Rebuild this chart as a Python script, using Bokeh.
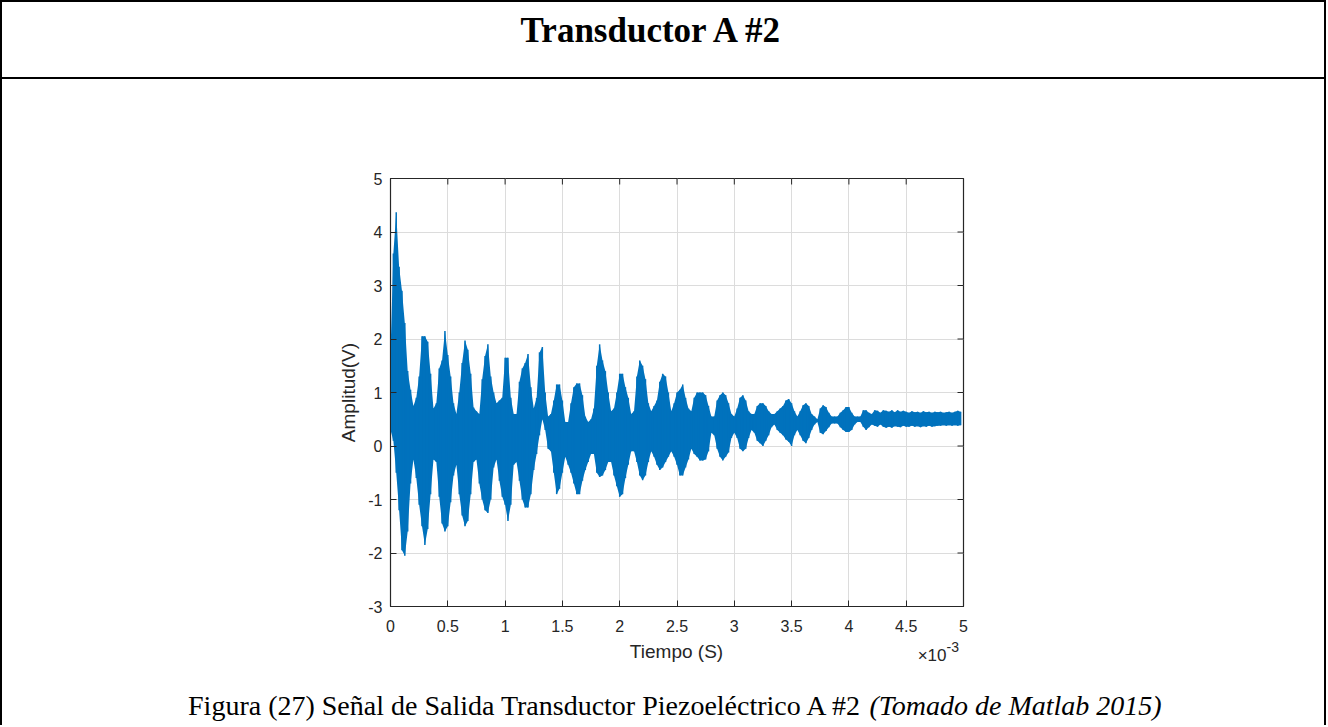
import numpy as np
from bokeh.plotting import figure
from bokeh.models import Range1d, FixedTicker, Label, ColumnDataSource
from bokeh.layouts import column
from bokeh.embed import file_html
from bokeh.resources import INLINE

# ---------------- data ----------------
title_text = "Transductor A #2"
caption_main = "Figura (27) Señal de Salida Transductor Piezoeléctrico A #2"
caption_ital = "(Tomado de Matlab 2015)"
x_label = "Tiempo (S)"
y_label = "Amplitud(V)"
x_mult_base = "×10"
x_mult_exp = "-3"

x_ticks = [0, 0.5, 1, 1.5, 2, 2.5, 3, 3.5, 4, 4.5, 5]
x_tick_labels = ["0", "0.5", "1", "1.5", "2", "2.5", "3", "3.5", "4", "4.5", "5"]
y_ticks = [-3, -2, -1, 0, 1, 2, 3, 4, 5]
y_tick_labels = ["-3", "-2", "-1", "0", "1", "2", "3", "4", "5"]

# envelope of the recorded signal (V), sampled every 0.025 x10^-3 s
sample_step = 0.025
sig_hi = [
    1.75, 3.6, 4.37, 3.35, 2.9, 2.3, 1.4, 1.05, 0.75, 0.9,
    1.3, 2.05, 2.05, 1.95, 1.35, 0.7, 0.8, 1.45, 1.6, 2.15,
    1.7, 1.3, 0.8, 0.6, 1.0, 1.55, 1.97, 1.8, 1.35, 0.72,
    0.65, 0.6, 1.25, 1.68, 1.9, 1.3, 1.0, 0.8, 0.85, 0.9,
    1.65, 1.65, 0.9, 0.6, 0.6, 1.2, 1.45, 1.55, 1.72, 1.1,
    0.7, 0.9, 1.75, 1.85, 1.0, 0.55, 0.6, 0.85, 1.15, 1.15,
    0.85, 0.45, 0.45, 0.8, 1.1, 1.17, 1.17, 0.95, 0.55, 0.45,
    0.5, 0.7, 1.5, 1.9, 1.6, 1.4, 1.0, 0.65, 0.7, 1.0,
    1.35, 1.35, 1.1, 0.9, 0.6, 0.65, 1.3, 1.6, 1.5, 1.25,
    0.8, 0.65, 0.75, 0.85, 1.2, 1.35, 1.3, 1.0, 0.65, 0.8,
    1.0, 1.05, 1.15, 0.9, 0.7, 0.65, 0.9, 1.0, 1.0, 1.0,
    0.95, 0.75, 0.55, 0.55, 0.85, 0.95, 1.0, 0.95, 0.8, 0.6,
    0.55, 0.7, 0.9, 0.95, 0.85, 0.65, 0.6, 0.6, 0.75, 0.8,
    0.8, 0.75, 0.65, 0.6, 0.6, 0.65, 0.7, 0.75, 0.85, 0.88,
    0.8, 0.65, 0.55, 0.65, 0.76, 0.8, 0.75, 0.6, 0.55, 0.5,
    0.7, 0.76, 0.73, 0.62, 0.55, 0.55, 0.55, 0.62, 0.67, 0.73,
    0.73, 0.62, 0.55, 0.55, 0.55, 0.67, 0.67, 0.62, 0.6, 0.67,
    0.66, 0.62, 0.67, 0.66, 0.64, 0.67, 0.63, 0.67, 0.64, 0.66,
    0.64, 0.62, 0.65, 0.63, 0.64, 0.62, 0.65, 0.63, 0.64, 0.62,
    0.64, 0.63, 0.64, 0.62, 0.63, 0.64, 0.62, 0.64, 0.66, 0.64,
]
sig_lo = [
    0.3, 0.1, -0.5, -1.2, -1.95, -2.05, -1.6, -0.7, -0.25, -0.6,
    -1.1, -1.5, -1.85, -1.55, -0.9, -0.25, -0.3, -0.95, -1.45, -1.6,
    -1.5, -1.05, -0.55, -0.35, -0.9, -1.3, -1.5, -1.4, -0.9, -0.3,
    -0.25, -0.7, -1.0, -1.2, -1.25, -1.0, -0.4, -0.25, -0.65, -0.95,
    -1.1, -1.4, -1.1, -0.35, -0.3, -0.65, -1.0, -1.15, -1.15, -0.9,
    -0.45, -0.15, 0.2, 0.5, 0.3, -0.05, -0.1, -0.5, -0.9, -0.8,
    -0.5, -0.2, -0.35, -0.5, -0.7, -0.9, -0.9, -0.65, -0.45, -0.3,
    -0.15, -0.15, -0.5, -0.58, -0.55, -0.45, -0.3, -0.3, -0.55, -0.75,
    -0.95, -0.9, -0.6, -0.35, -0.1, -0.1, -0.3, -0.55, -0.64, -0.55,
    -0.3, -0.1, -0.2, -0.35, -0.45, -0.4, -0.3, -0.2, -0.1, -0.2,
    -0.35, -0.55, -0.55, -0.4, -0.25, -0.05, -0.15, -0.2, -0.27, -0.27,
    -0.25, -0.1, 0.25, 0.2, -0.05, -0.2, -0.27, -0.2, -0.12, 0.15,
    0.25, 0.15, -0.05, -0.1, -0.05, 0.15, 0.3, 0.25, 0.1, 0.05,
    0.0, 0.1, 0.2, 0.35, 0.4, 0.3, 0.25, 0.2, 0.12, 0.08,
    0.0, 0.2, 0.3, 0.2, 0.1, 0.05, 0.15, 0.3, 0.4, 0.45,
    0.25, 0.22, 0.28, 0.35, 0.42, 0.42, 0.42, 0.35, 0.3, 0.26,
    0.26, 0.3, 0.4, 0.45, 0.45, 0.36, 0.3, 0.35, 0.4, 0.38,
    0.36, 0.4, 0.36, 0.34, 0.36, 0.34, 0.37, 0.36, 0.35, 0.38,
    0.36, 0.36, 0.38, 0.36, 0.37, 0.35, 0.37, 0.36, 0.38, 0.36,
    0.37, 0.38, 0.38, 0.39, 0.38, 0.39, 0.38, 0.39, 0.38, 0.39,
]
t_ms = np.arange(len(sig_hi)) * sample_step

# ---------------- layout ----------------
W = 1326          # element width
TITLE_H = 79
MAIN_H = 557
BOT_H = 89
AX = "#262626"
BLUE = "#0072BD"
BORDER = "2px solid #000"

# --- title cell ---
tf = figure(width=W, height=TITLE_H, x_range=Range1d(0, W), y_range=Range1d(0, TITLE_H),
            output_backend="svg", toolbar_location=None, min_border=0, frame_align=False,
            x_axis_location=None, y_axis_location=None, outline_line_color=None)
tf.grid.visible = False
tf.styles = {"border": BORDER, "box-sizing": "border-box"}
tf.add_layout(Label(x=650, y=51, text=title_text, text_font="Liberation Serif",
                    text_font_style="bold", text_font_size="35px", text_color="black",
                    text_align="center", text_baseline="middle"))

# --- chart ---
p = figure(width=W, height=MAIN_H, x_range=Range1d(x_ticks[0], x_ticks[-1]),
           y_range=Range1d(y_ticks[0], y_ticks[-1]),
           output_backend="svg", toolbar_location=None, frame_align=False,
           min_border_left=388, min_border_right=365, min_border_top=99, min_border_bottom=30)
p.styles = {"border-left": BORDER, "border-right": BORDER, "box-sizing": "border-box"}
p.outline_line_color = AX
p.outline_line_width = 1.2

src = ColumnDataSource(dict(t=t_ms, hi=sig_hi, lo=sig_lo))
p.varea(x="t", y1="lo", y2="hi", source=src, fill_color=BLUE)
p.segment(x0="t", y0="lo", x1="t", y1="hi", source=src, line_color=BLUE, line_width=1.5)

for ax in (p.xaxis[0], p.yaxis[0]):
    ax.major_tick_in = 6
    ax.major_tick_out = 0
    ax.minor_tick_line_color = None
    ax.axis_line_color = AX
    ax.major_tick_line_color = AX
    ax.major_label_text_font = "Liberation Sans"
    ax.major_label_text_font_size = "16px"
    ax.major_label_text_color = AX
    ax.axis_label_text_font = "Liberation Sans"
    ax.axis_label_text_font_size = "19px"
    ax.axis_label_text_font_style = "normal"
    ax.axis_label_text_color = AX

p.xaxis.ticker = FixedTicker(ticks=x_ticks)
p.xaxis.major_label_overrides = {k: v for k, v in zip(x_ticks, x_tick_labels)}
p.xaxis.major_label_standoff = 13
p.yaxis.ticker = FixedTicker(ticks=y_ticks)
p.yaxis.major_label_overrides = {k: v for k, v in zip(y_ticks, y_tick_labels)}
p.yaxis.axis_label = y_label
p.yaxis.major_label_standoff = 8
p.yaxis.axis_label_standoff = 6

# inward ticks on the top and right edges of the box (half of each dash is clipped)
p.scatter(x=x_ticks, y=[y_ticks[-1]] * len(x_ticks), marker="dash", angle=np.pi / 2,
          size=12, line_color=AX, line_width=1)
p.scatter(x=[x_ticks[-1]] * len(y_ticks), y=y_ticks, marker="dash",
          size=12, line_color=AX, line_width=1)

p.xgrid.ticker = FixedTicker(ticks=x_ticks)
p.ygrid.ticker = FixedTicker(ticks=y_ticks)
p.grid.grid_line_color = "#dcdcdc"
p.grid.grid_line_width = 1

# --- x label, exponent and caption ---
bf = figure(width=W, height=BOT_H, x_range=Range1d(0, W), y_range=Range1d(0, BOT_H),
            output_backend="svg", toolbar_location=None, min_border=0, frame_align=False,
            x_axis_location=None, y_axis_location=None, outline_line_color=None)
bf.grid.visible = False
bf.styles = {"border-left": BORDER, "border-right": BORDER, "box-sizing": "border-box"}
bf.add_layout(Label(x=674, y=74, text=x_label, text_align="center", text_baseline="middle",
                    text_font="Liberation Sans", text_font_size="19px", text_color=AX))
bf.add_layout(Label(x=944, y=70, text=x_mult_base, text_align="right", text_baseline="middle",
                    text_font="Liberation Sans", text_font_size="17px", text_color=AX))
bf.add_layout(Label(x=944, y=79, text=x_mult_exp, text_align="left", text_baseline="middle",
                    text_font="Liberation Sans", text_font_size="14px", text_color=AX))
bf.add_layout(Label(x=861, y=20, text=caption_main, text_align="right", text_baseline="alphabetic",
                    text_font="Liberation Serif", text_font_size="28px", text_color="black"))
bf.add_layout(Label(x=861, y=20, x_offset=6, text=caption_ital, text_align="left",
                    text_baseline="alphabetic", text_font="Liberation Serif", text_font_style="italic",
                    text_font_size="28px", text_color="black"))

layout = column(tf, p, bf, spacing=0)
open("out.html", "w").write(file_html(layout, INLINE))
